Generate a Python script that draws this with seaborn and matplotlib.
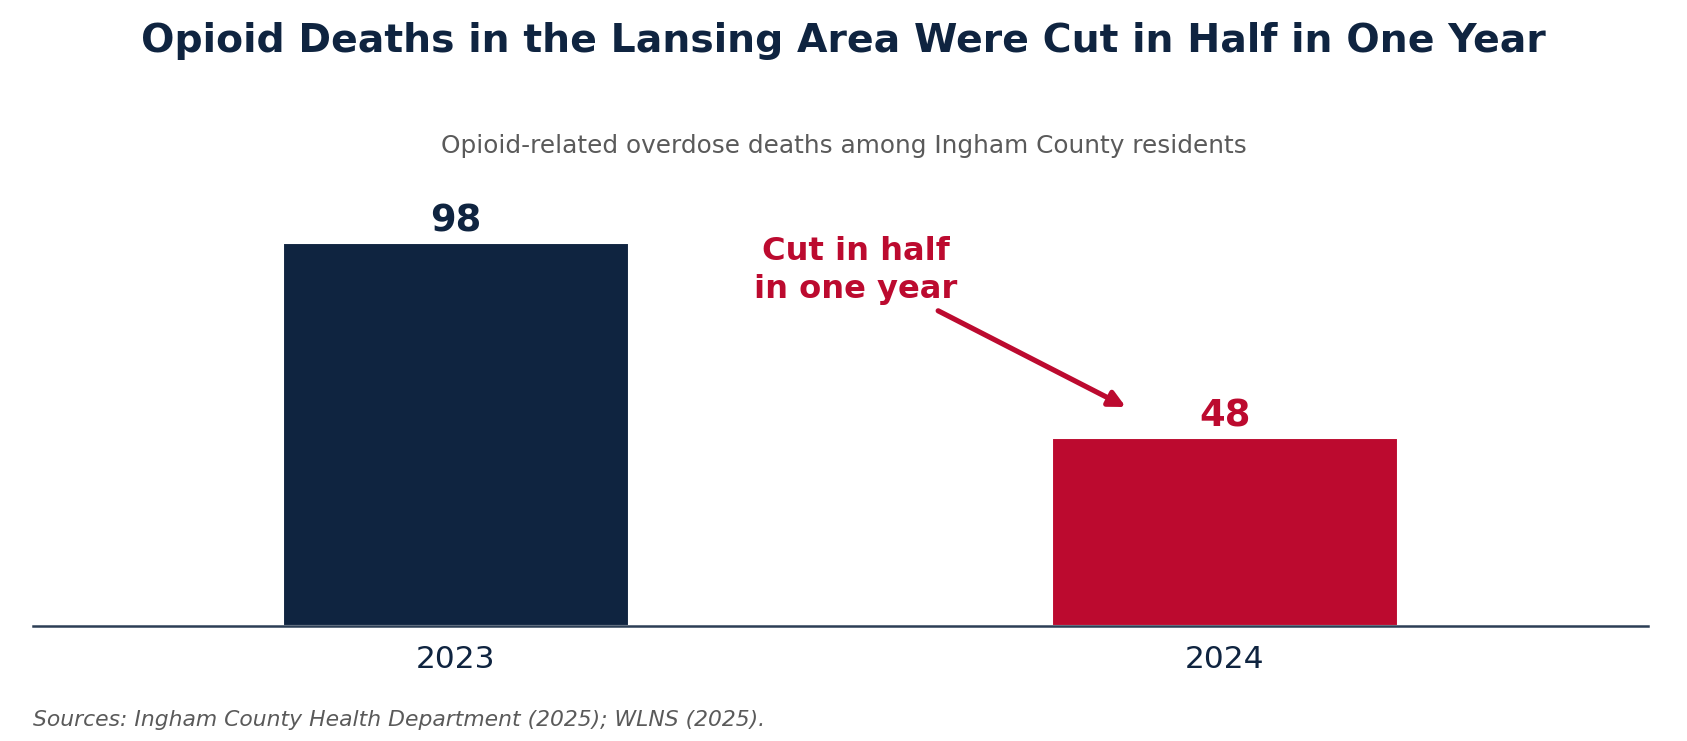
import matplotlib
matplotlib.use("Agg")
import matplotlib.pyplot as plt
import seaborn as sns
import pandas as pd

years = ["2023", "2024"]
deaths = [98, 48]
bar_colors = ["#0f2440", "#bc0a2f"]

NAVY = "#0f2440"
RED = "#bc0a2f"

sns.set_theme(style="white")
plt.rcParams["font.family"] = ["DejaVu Sans"]

df = pd.DataFrame({"year": years, "deaths": deaths})

fig = plt.figure(figsize=(1687 / 150, 741 / 150), dpi=150)
ax = fig.add_axes([33 / 1687, 1 - 626 / 741, (1648 - 33) / 1687, (626 - 188) / 741])

sns.barplot(data=df, x="year", y="deaths", hue="year", palette=bar_colors,
            width=0.45, legend=False, ax=ax, saturation=1)

ax.set_xlim(-0.55, 1.55)
ax.set_ylim(0, 112)
ax.set_xlabel("")
ax.set_ylabel("")
ax.set_yticks([])
ax.tick_params(axis="x", length=0, pad=9, labelsize=15, labelcolor=NAVY)
for s in ["top", "right", "left"]:
    ax.spines[s].set_visible(False)
ax.spines["bottom"].set_color("#2c3e55")
ax.spines["bottom"].set_linewidth(1.2)

for cont, col in zip(ax.containers, bar_colors):
    ax.bar_label(cont, fmt="%d", padding=1.8, fontsize=17.7, fontweight="bold", color=col)

ax.text(0.52, 90.9, "Cut in half\nin one year", ha="center", va="center",
        fontsize=15.4, fontweight="bold", color=RED, linespacing=1.27)
ax.annotate("", xy=(0.871, 56.0), xytext=(0.627, 80.6),
            arrowprops=dict(arrowstyle="-|>", color=RED, lw=2.5, mutation_scale=16,
                            shrinkA=0, shrinkB=0, capstyle="round",
                            connectionstyle="arc3"),
            annotation_clip=False)

fig.text(0.5, 1 - 41 / 741, "Opioid Deaths in the Lansing Area Were Cut in Half in One Year",
         ha="center", va="center", fontsize=18.9, fontweight="bold", color=NAVY)
fig.text(0.5, 1 - 146 / 741, "Opioid-related overdose deaths among Ingham County residents",
         ha="center", va="center", fontsize=11.9, color="#5a5a5a")
fig.text(33 / 1687, 1 - 720 / 741, "Sources: Ingham County Health Department (2025); WLNS (2025).",
         ha="left", va="center", fontsize=10.5, style="italic", color="#5a5a5a")

fig.savefig("out.png", dpi=150)
